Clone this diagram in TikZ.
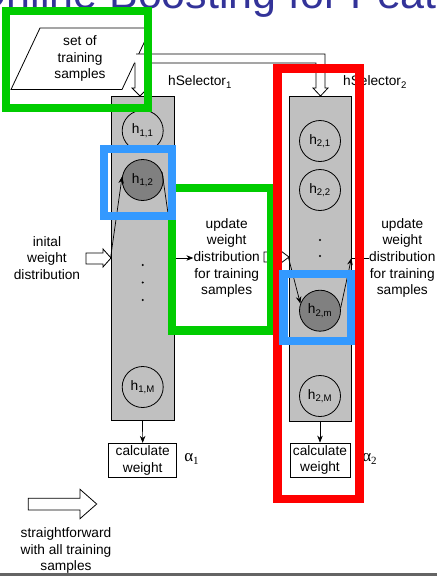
\documentclass[tikz,border=0pt]{standalone}
\usepackage{fontspec}
\setmainfont{Liberation Sans}
\newfontfamily\greekserif{Liberation Serif}
\usetikzlibrary{arrows.meta,calc}
\definecolor{colgray}{RGB}{192,192,192}
\definecolor{selgray}{RGB}{128,128,128}
\definecolor{hlgreen}{RGB}{0,204,0}
\definecolor{hlred}{RGB}{255,0,0}
\definecolor{hlblue}{RGB}{51,153,255}
\definecolor{titleblue}{RGB}{51,51,153}
\definecolor{rulegray}{RGB}{100,100,100}
\tikzset{
  txt/.style={font=\fontsize{13.7}{16.7}\selectfont, align=center, inner sep=0pt},
  column/.style={draw=black, fill=colgray, line width=0.9pt, minimum width=63pt, minimum height=324pt, inner sep=0pt},
  hnode/.style={circle, draw=black, line width=0.8pt, minimum size=41pt, inner sep=0pt, font=\fontsize{13.7}{16}\selectfont},
  chosen/.style={hnode, fill=selgray},
  calcbox/.style={draw=black, fill=white, line width=0.8pt, minimum height=34pt, inner sep=0pt, font=\fontsize{13.7}{16.7}\selectfont, align=center},
  flow/.style={-{Stealth[length=7pt,width=5.5pt]}, line width=0.7pt},
  hollow/.style={draw=black, fill=white, line width=0.8pt, line join=miter},
  hilite/.style={line width=8.3pt},
  dotmark/.style={circle, fill=black, inner sep=0pt, minimum size=2.2pt},
  alpha/.style={font=\greekserif\fontsize{17}{19}\selectfont, inner sep=0pt}
}
\begin{document}
\begin{tikzpicture}[x=1pt,y=-1pt]
\useasboundingbox (0,0) rectangle (437,576);

% slide title, running past the top edge
\begin{scope}
  \clip (0,0) rectangle (437,576);
  \node[anchor=base west, text=titleblue, font=\fontsize{43}{50}\selectfont, inner sep=0pt] (title) at (-27,8.5) {Online Boosting for Feature Selection};
\end{scope}

% the two selector columns
\node[column] (col1) at (142.5,258) {};
\node[column, minimum width=62pt, minimum height=325pt] (col2) at (320,258.5) {};
\node[txt, anchor=center] (lab1) at (200,82) {hSelector\textsubscript{1}};
\node[txt, anchor=center] (lab2) at (375,82) {hSelector\textsubscript{2}};

% weak hypotheses of selector 1
\node[hnode] (h11) at (142.7,130.7) {h\textsubscript{1,1}};
\node[chosen] (h12) at (142.7,180) {h\textsubscript{1,2}};
\node[dotmark] (d11) at (142.7,265) {};
\node[dotmark] (d12) at (142.7,282.5) {};
\node[dotmark] (d13) at (142.7,300) {};
\node[hnode] (h1M) at (142.7,387) {h\textsubscript{1,M}};

% weak hypotheses of selector 2
\node[hnode] (h21) at (320,141) {h\textsubscript{2,1}};
\node[hnode] (h22) at (320,190) {h\textsubscript{2,2}};
\node[dotmark] (d21) at (320,240) {};
\node[dotmark] (d22) at (320,256) {};
\node[chosen] (h2m) at (320,310.7) {h\textsubscript{2,m}};
\node[hnode] (h2M) at (320,396) {h\textsubscript{2,M}};

% training set and the hollow arrow feeding both columns
\draw[hollow] (40,28) -- (151,28) -- (122,89.5) -- (11,89.5) -- cycle;
\node[txt] (samples) at (80,58.7) {set of\\training\\samples};
\draw[hollow] (136,54) -- (325,54) -- (325,88) -- (328,88) -- (320.5,96) -- (313,88) -- (316,88)
  -- (316,63) -- (145,63) -- (145,88) -- (148,88) -- (140,96) -- (132,88) -- (135,88) -- (135,63) -- (134,63);

% initial weights
\node[txt] (init) at (47,258) {inital\\weight\\distribution};
\draw[hollow] (86,253) -- (103,253) -- (103,249) -- (111,258) -- (103,267) -- (103,264) -- (86,264) -- cycle;

% weight updates
\node[txt] (upd1) at (226.7,258) {update\\weight\\distribution\\for training\\samples};
\node[txt] (upd2) at (402.3,258) {update\\weight\\distribution\\for training\\samples};
\coordinate (in1) at (col1.west |- init);
\coordinate (out1) at (col1.east |- upd1);
\coordinate (in2) at (col2.west |- upd1);
\coordinate (out2) at (col2.east |- upd2);
\draw[flow] (in1) -- (h12.170);
\draw[line width=0.7pt] (h12.22) -- (out1);
\draw[flow] (out1) -- (upd1.west);
\draw[hollow] (264,252) -- (279,252) -- (279,249.5) -- (289,257) -- (279,264.5) -- (279,262) -- (264,262) -- cycle;
\draw[flow] (in2) -- (h2m.160);
\draw[flow] (h2m.8) -- (out2);
\draw[line width=0.7pt] (out2) -- (upd2.west);

% voting weights
\node[calcbox, minimum width=68pt] (cw1) at (142.7,460.3) {calculate\\weight};
\node[calcbox, minimum width=60pt] (cw2) at (320,460) {calculate\\weight};
\draw[flow] (col1.south) -- (cw1.north);
\draw[flow] (col2.south) -- (cw2.north);
\node[alpha] (a1) at (191.5,459) {α\raisebox{-0.35ex}{\fontsize{11}{12}\selectfont 1}};
\node[alpha] (a2) at (369.5,459) {α\raisebox{-0.35ex}{\fontsize{11}{12}\selectfont 2}};

% legend
\draw[hollow] (28.3,498.3) -- (80,498.3) -- (80,489.3) -- (96.7,504) -- (80,518.7) -- (80,510) -- (28.3,510) -- cycle;
\node[txt] (legend) at (66,550.7) {straightforward\\with all training\\samples};

% highlight frames
\draw[hlgreen, hilite] (6,10.8) rectangle (148.3,108);
\draw[hlgreen, hilite] (172,188) rectangle (271.3,330.5);
\draw[hlred, hilite] (277.5,68.5) rectangle (359.5,499.2);
\draw[hlblue, hilite] (103.7,149) rectangle (172.2,216);
\draw[hlblue, hilite] (283.5,274.2) rectangle (351,340.8);

% footer rule
\draw[rulegray, line width=2.4pt] (0,574.6) -- (437,574.6);
\end{tikzpicture}
\end{document}
